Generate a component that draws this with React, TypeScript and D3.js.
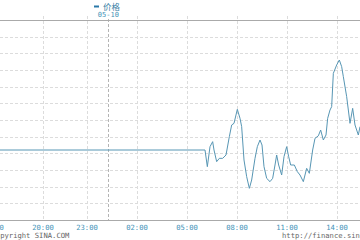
import React from "react";
import * as d3 from "d3";

// Tick hours (next day = +24) and labels
const tickHours = [17, 20, 23, 26, 29, 32, 35, 38];
const tickLabels = ["17:00", "20:00", "23:00", "02:00", "05:00", "08:00", "11:00", "14:00"];
const dayBreakHour = 24.28;
const dayLabel = "05-10";
const seriesName = "价格";

// Price series: hour (since session start, next day +24) and value (grid units)
const times = [
  17, 30.08, 30.22, 30.38, 30.54, 30.62, 30.78, 30.94, 31.14, 31.34, 31.54, 31.68, 31.82,
  32.02, 32.18, 32.28, 32.42, 32.58, 32.74, 32.88, 33.08, 33.22, 33.38, 33.5, 33.62, 33.78,
  33.98, 34.14, 34.28, 34.38, 34.5, 34.68, 34.82, 34.98, 35.1, 35.22, 35.44, 35.62, 35.78,
  35.98, 36.18, 36.34, 36.54, 36.68, 36.88, 37.02, 37.18, 37.34, 37.44, 37.58, 37.68, 37.78,
  37.98, 38.14, 38.28, 38.38, 38.58, 38.78, 38.94, 39.08, 39.28, 39.38,
];
const values = [
  4.2, 4.2, 3.2, 4.4, 4.7, 4.2, 3.5, 3.7, 3.7, 3.9, 5.0, 5.7, 5.8,
  6.64, 6.1, 5.6, 3.6, 2.6, 1.9, 2.4, 3.7, 4.4, 4.8, 4.5, 3.2, 2.5,
  2.3, 2.5, 3.3, 3.9, 3.3, 2.7, 3.8, 4.4, 3.8, 3.3, 3.3, 2.9, 2.7,
  2.3, 3.1, 2.8, 4.2, 4.9, 5.05, 5.4, 4.8, 5.1, 6.1, 6.6, 6.8, 8.8,
  9.3, 9.6, 9.2, 8.6, 7.4, 5.8, 6.7, 5.7, 5.1, 5.6,
];

const W = 360;
const H = 240;

export default function App() {
  const top = 20;
  const bottom = 220;
  const x = d3
    .scaleLinear()
    .domain(tickHours)
    .range([-7, 43, 87, 137, 187, 237, 287, 337]);
  const y = d3.scaleLinear().domain([0, 12]).range([bottom, top]);
  const gridVals = d3.range(0, 13);
  const pts = times.map((t, i) => [t, values[i]] as [number, number]);
  const line = d3
    .line<[number, number]>()
    .x((d) => x(d[0]))
    .y((d) => y(d[1]));
  const mono = "'DejaVu Sans Mono', monospace";
  const xb = x(dayBreakHour);
  return (
    <svg
      width={W}
      height={H}
      style={{ position: "absolute", left: 0, top: 0, background: "#fff" }}
    >
      {gridVals.map((g) =>
        g === 0 || g === 12 ? null : (
          <line
            key={"h" + g}
            x1={0}
            x2={W}
            y1={Math.round(y(g)) + 0.5}
            y2={Math.round(y(g)) + 0.5}
            stroke="#dcdcdc"
            strokeDasharray="3,2"
          />
        )
      )}
      {tickHours.map((t) => (
        <line
          key={"v" + t}
          x1={Math.round(x(t)) + 0.5}
          x2={Math.round(x(t)) + 0.5}
          y1={16}
          y2={bottom}
          stroke="#dcdcdc"
          strokeDasharray="3,2"
        />
      ))}
      <line
        x1={Math.round(xb) + 0.5}
        x2={Math.round(xb) + 0.5}
        y1={19}
        y2={bottom}
        stroke="#b4b4b4"
        strokeDasharray="3,2"
      />
      <line x1={0} x2={W} y1={top + 0.5} y2={top + 0.5} stroke="#aaaaaa" />
      <line x1={0} x2={W} y1={bottom + 0.5} y2={bottom + 0.5} stroke="#aaaaaa" />
      <path d={line(pts) || ""} fill="none" stroke="#5796b4" strokeWidth={1} />
      {tickHours.map((t, i) => (
        <text
          key={"t" + t}
          x={x(t)}
          y={230}
          textAnchor="middle"
          fontFamily={mono}
          fontSize={7.2}
          fill="#3f93b8"
        >
          {tickLabels[i]}
        </text>
      ))}
      <text x={-8.5} y={238} fontFamily={mono} fontSize={7.2} fill="#666">
        Copyright SINA.COM
      </text>
      <text x={282} y={238} fontFamily={mono} fontSize={7.2} fill="#666">
        http://finance.sina.com.cn
      </text>
      <line x1={94} x2={99} y1={6.5} y2={6.5} stroke="#2a78a8" strokeWidth={2} />
      <text
        x={103}
        y={10}
        fontFamily="'Noto Sans CJK SC', sans-serif"
        fontSize={8.5}
        fill="#3a7fa6"
      >
        {seriesName}
      </text>
      <text
        x={xb}
        y={17}
        textAnchor="middle"
        fontFamily={mono}
        fontSize={7}
        fill="#3f93b8"
      >
        {dayLabel}
      </text>
    </svg>
  );
}
